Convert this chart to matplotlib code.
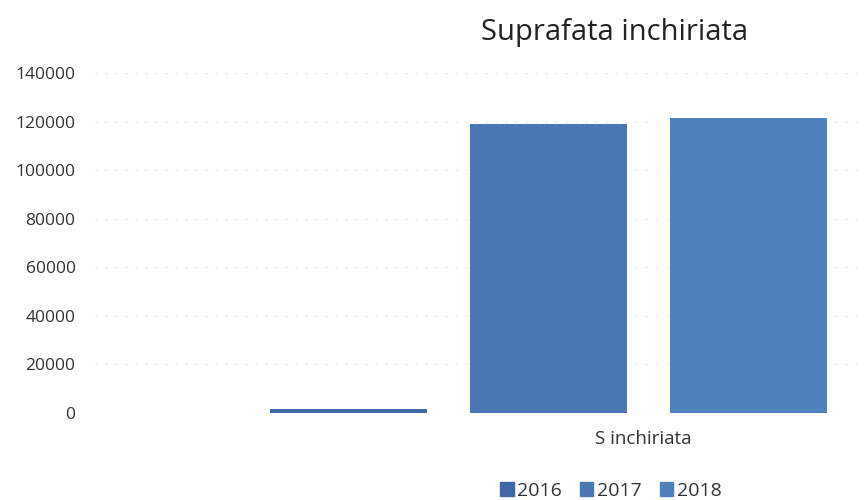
import matplotlib.pyplot as plt
import numpy as np

# ---- data ----
category = "S inchiriata"
series = ["2016", "2017", "2018"]
values = [1800, 119000, 121500]
colors = ["#3f68a6", "#4a77b5", "#5081bf"]
y_ticks = [0, 20000, 40000, 60000, 80000, 100000, 120000, 140000]

plt.rcParams['font.family'] = ['Open Sans', 'DejaVu Sans']

fig = plt.figure(figsize=(8.64, 5.0), dpi=100)
ax = fig.add_axes([0.110, 0.174, 0.885, 0.680])

pos = np.arange(len(series))
ax.bar(pos, values, width=0.785, color=colors, label=series, zorder=2)

ax.set_xlim(-1.27, 2.555)
ax.set_ylim(0, 140000)
ax.set_yticks(y_ticks)
ax.set_yticklabels([str(v) for v in y_ticks], fontsize=12.5, color="#333333")
ax.tick_params(axis="y", length=0, pad=14)

# single category label, sits between 2nd and 3rd bar in the scan
ax.set_xticks([pos.mean() + 0.47])
ax.set_xticklabels([category], fontsize=13.5, color="#333333")
ax.tick_params(axis="x", length=0, pad=12)

ax.grid(axis="y", color="#e6e6e6", linewidth=0.8, linestyle=(0, (2, 7)), zorder=0)
for s in ax.spines.values():
    s.set_visible(False)

fig.text(0.711, 0.935, "Suprafata inchiriata", fontsize=21, color="#222222",
         ha="center", va="center")

handles = [plt.Rectangle((0, 0), 1, 1, color=c) for c in colors]
fig.legend(handles, series, loc="center", bbox_to_anchor=(0.707, 0.018),
           ncol=3, frameon=False, fontsize=14, handlelength=0.7, handleheight=0.7,
           handletextpad=0.2, columnspacing=0.9, labelcolor="#333333")

fig.savefig("out.png", dpi=100)
